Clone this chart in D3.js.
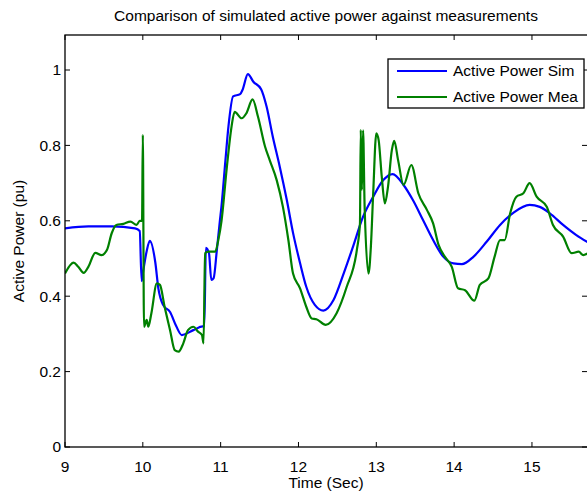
<!DOCTYPE html>
<html><head><meta charset="utf-8">
<script src="https://cdn.jsdelivr.net/npm/d3@7"></script>
<style>html,body{margin:0;padding:0;background:#fff;}svg{display:block;font-family:"Liberation Sans",Arial,sans-serif;}</style>
</head><body>
<script>
const simT = [9.0,9.3,9.6,9.9,9.96,9.985,10.0,10.05,10.09,10.16,10.2,10.26,10.35,10.43,10.5,10.65,10.77,10.79,10.81,10.85,10.88,10.91,10.95,10.99,11.01,11.06,11.1,11.16,11.25,11.28,11.35,11.42,11.52,11.59,11.67,11.76,11.85,11.93,12.02,12.1,12.21,12.32,12.45,12.58,12.7,12.83,12.96,13.09,13.21,13.35,13.47,13.6,13.73,13.86,13.99,14.1,14.25,14.42,14.59,14.76,14.97,15.1,15.23,15.4,15.57,15.72];
const simP = [0.58,0.585,0.585,0.58,0.573,0.44,0.46,0.52,0.547,0.49,0.42,0.377,0.358,0.32,0.297,0.31,0.32,0.32,0.528,0.514,0.443,0.448,0.52,0.6,0.637,0.757,0.85,0.93,0.936,0.947,0.989,0.969,0.949,0.903,0.823,0.743,0.655,0.568,0.488,0.425,0.377,0.362,0.39,0.46,0.531,0.611,0.664,0.708,0.724,0.695,0.655,0.602,0.549,0.505,0.487,0.485,0.505,0.545,0.589,0.621,0.642,0.637,0.62,0.589,0.562,0.543];
const meaT = [9.0,9.11,9.17,9.24,9.3,9.39,9.47,9.54,9.6,9.66,9.75,9.84,9.92,9.96,9.99,10.0,10.015,10.05,10.07,10.11,10.18,10.22,10.28,10.35,10.41,10.46,10.52,10.58,10.65,10.71,10.76,10.78,10.8,10.84,10.93,10.97,11.01,11.08,11.14,11.18,11.27,11.33,11.41,11.48,11.57,11.63,11.72,11.8,11.87,11.93,12.02,12.1,12.17,12.23,12.35,12.49,12.62,12.75,12.79,12.8,12.815,12.83,12.85,12.9,12.93,12.96,13.0,13.03,13.07,13.11,13.15,13.2,13.23,13.28,13.35,13.45,13.54,13.65,13.73,13.8,13.88,13.97,14.05,14.14,14.26,14.33,14.44,14.52,14.59,14.65,14.72,14.8,14.89,14.97,15.06,15.19,15.27,15.4,15.51,15.6,15.66,15.72];
const meaP = [0.46,0.489,0.478,0.462,0.478,0.515,0.509,0.523,0.567,0.589,0.592,0.598,0.589,0.6,0.6,0.828,0.319,0.337,0.319,0.355,0.434,0.43,0.372,0.31,0.257,0.253,0.275,0.31,0.319,0.306,0.297,0.275,0.514,0.518,0.518,0.549,0.598,0.743,0.85,0.889,0.872,0.885,0.922,0.876,0.797,0.761,0.708,0.637,0.549,0.46,0.421,0.372,0.341,0.339,0.324,0.355,0.425,0.523,0.593,0.841,0.682,0.84,0.637,0.46,0.531,0.673,0.832,0.814,0.717,0.646,0.69,0.788,0.812,0.761,0.695,0.748,0.673,0.629,0.593,0.536,0.505,0.478,0.421,0.416,0.388,0.43,0.447,0.505,0.549,0.549,0.62,0.664,0.673,0.7,0.664,0.637,0.589,0.558,0.514,0.518,0.509,0.514];
const xTicks = [9,10,11,12,13,14,15];
const yTicks = [0,0.2,0.4,0.6,0.8,1];
const yTickLabels = ["0","0.2","0.4","0.6","0.8","1"];
const seriesNames = ["Active Power Sim","Active Power Mea"];

const W=587,H=492;
const L=65,R=588,T=35,B=447;
const x=d3.scaleLinear().domain([9,15.72]).range([L,R]);
const y=d3.scaleLinear().domain([0,(B-T)/377]).range([B,T]);
const svg=d3.select("body").append("svg").attr("width",W).attr("height",H);
svg.append("defs").append("clipPath").attr("id","c").append("rect").attr("x",L).attr("y",T).attr("width",R-L).attr("height",B-T);

const fs=15.5;
svg.append("text").attr("x",326).attr("y",21).attr("text-anchor","middle").attr("font-size",fs).text("Comparison of simulated active power against measurements");

const line=d3.line().x(d=>x(d[0])).y(d=>y(d[1])).curve(d3.curveMonotoneX);
const g=svg.append("g").attr("clip-path","url(#c)");
g.append("path").datum(simT.map((t,i)=>[t,simP[i]])).attr("d",line).attr("fill","none").attr("stroke","#0000ff").attr("stroke-width",2.2).attr("stroke-linejoin","round");
g.append("path").datum(meaT.map((t,i)=>[t,meaP[i]])).attr("d",line).attr("fill","none").attr("stroke","#008000").attr("stroke-width",2.2).attr("stroke-linejoin","round");

// axes
const ax=svg.append("g").attr("stroke","#000").attr("fill","none");
ax.append("rect").attr("x",L).attr("y",T).attr("width",R-L).attr("height",B-T).attr("stroke-width",1.3);
xTicks.forEach(v=>{
  ax.append("line").attr("x1",x(v)).attr("x2",x(v)).attr("y1",B).attr("y2",B-5);
  ax.append("line").attr("x1",x(v)).attr("x2",x(v)).attr("y1",T).attr("y2",T+5);
});
yTicks.forEach(v=>{
  ax.append("line").attr("x1",L).attr("x2",L+5).attr("y1",y(v)).attr("y2",y(v));
  ax.append("line").attr("x1",R-6).attr("x2",R-1).attr("y1",y(v)).attr("y2",y(v));
});
const tx=svg.append("g").attr("font-size",fs).attr("fill","#000");
xTicks.forEach(v=>{
  tx.append("text").attr("x",x(v)).attr("y",472).attr("text-anchor","middle").text(v);
});
yTicks.forEach((v,i)=>{
  tx.append("text").attr("x",61).attr("y",y(v)).attr("dy","0.35em").attr("text-anchor","end").text(yTickLabels[i]);
});
tx.append("text").attr("x",326).attr("y",488).attr("text-anchor","middle").text("Time (Sec)");
tx.append("text").attr("transform","translate(24,"+((T+B)/2)+") rotate(-90)").attr("text-anchor","middle").text("Active Power (pu)");

// legend
const lg=svg.append("g");
lg.append("rect").attr("x",388).attr("y",59).attr("width",196).attr("height",49).attr("fill","#fff").attr("stroke","#000").attr("stroke-width",1.3);
const cols=["#0000ff","#008000"];
seriesNames.forEach((n,i)=>{
  const yy=71+i*26;
  lg.append("line").attr("x1",397).attr("x2",447).attr("y1",yy).attr("y2",yy).attr("stroke",cols[i]).attr("stroke-width",2.2);
  lg.append("text").attr("x",453).attr("y",yy).attr("dy","0.35em").attr("font-size",fs).text(n);
});
</script>
</body></html>
